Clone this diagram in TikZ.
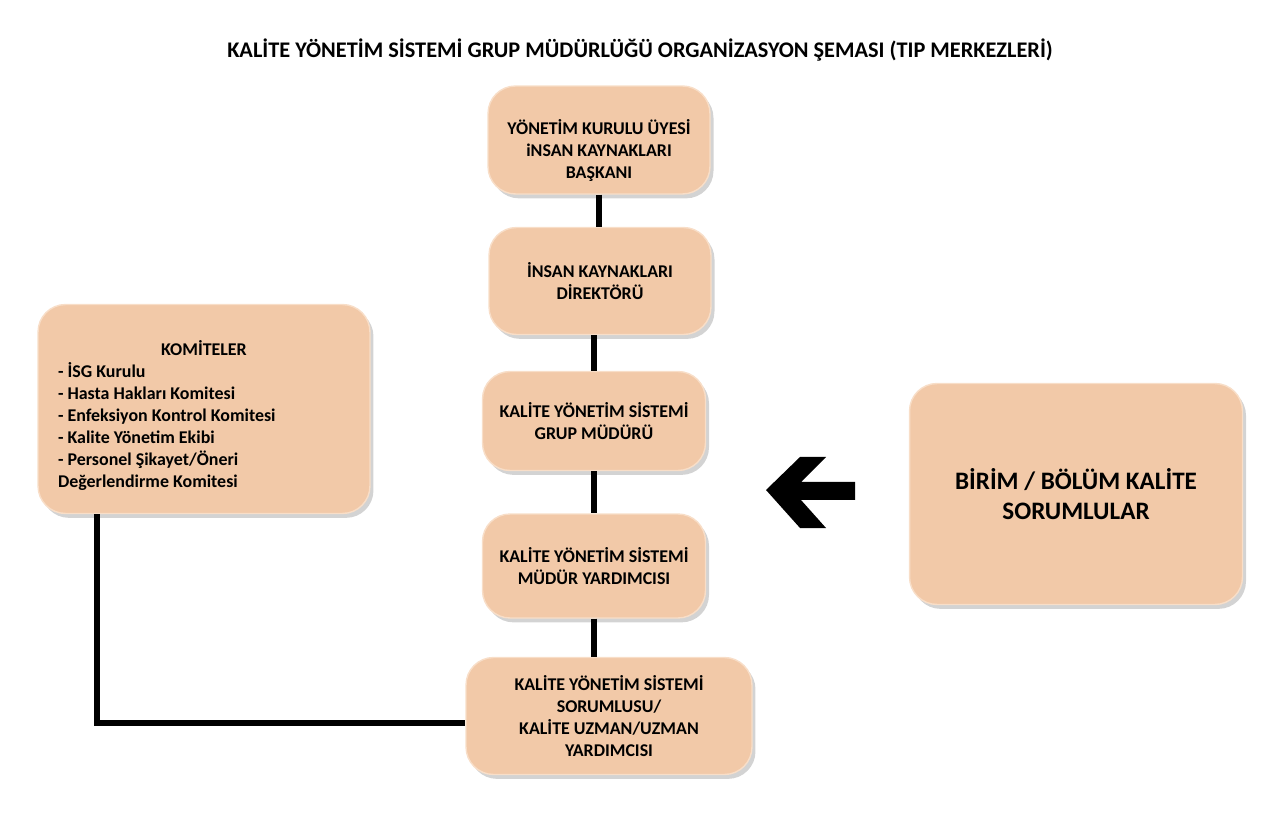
\documentclass[tikz,border=0pt]{standalone}
\usepackage{fontspec}
\setmainfont{Carlito}
\usetikzlibrary{shadows}
\definecolor{boxfill}{RGB}{242,201,168}
\definecolor{boxedge}{RGB}{248,222,200}

\begin{document}
\begin{tikzpicture}[x=0.02cm, y=-0.02cm,
    orgbox/.style={rounded corners=0.55cm, fill=boxfill, draw=boxedge, line width=0.8pt,
        drop shadow={shadow xshift=2pt, shadow yshift=-2.5pt, opacity=0.35},
        align=center, inner sep=2pt, font=\bfseries\fontsize{10.2}{12.5}\selectfont},
    link/.style={line width=2.9pt, black}]
            \useasboundingbox (0,0) rectangle (1280,813);
            % title
            \node (title) at (640,50) {\bfseries\fontsize{12.7}{14}\selectfont KALİTE YÖNETİM SİSTEMİ GRUP MÜDÜRLÜĞÜ ORGANİZASYON ŞEMASI (TIP MERKEZLERİ)};

            % connector ends
            \coordinate (kdrop) at (97,514);

            % central column
            \node [orgbox, minimum width=4.44cm, minimum height=2.16cm] (bskn) at (599,140)
                {\rule{0pt}{21pt}YÖNETİM KURULU ÜYESİ\\iNSAN KAYNAKLARI\\BAŞKANI};
            \node [orgbox, minimum width=4.44cm, minimum height=2.14cm] (ikdir) at (600,281)
                {İNSAN KAYNAKLARI\\DİREKTÖRÜ};
            \node [orgbox, minimum width=4.46cm, minimum height=1.98cm] (gmd) at (594,421)
                {KALİTE YÖNETİM SİSTEMİ\\GRUP MÜDÜRÜ};
            \node [orgbox, minimum width=4.46cm, minimum height=2.08cm] (myrd) at (594,566)
                {KALİTE YÖNETİM SİSTEMİ\\MÜDÜR YARDIMCISI};
            \node [orgbox, minimum width=5.72cm, minimum height=2.34cm] (srm) at (609,716)
                {KALİTE YÖNETİM SİSTEMİ\\SORUMLUSU/\\KALİTE UZMAN/UZMAN\\YARDIMCISI};

            % side boxes
            \node [orgbox, minimum width=6.64cm, minimum height=4.18cm, text width=5.84cm, align=flush left] (kom) at (204,409)
                {\rule{0pt}{16pt}\hfill KOMİTELER\hfill\null\\- İSG Kurulu\\- Hasta Hakları Komitesi\\- Enfeksiyon Kontrol Komitesi\\- Kalite Yönetim Ekibi\\- Personel Şikayet/Öneri\\Değerlendirme Komitesi};
            \node [orgbox, minimum width=6.66cm, minimum height=4.42cm, font=\bfseries\fontsize{14.3}{17}\selectfont] (birim) at (1076,494)
                {BİRİM / BÖLÜM KALİTE\\SORUMLULAR};

            % links
            \draw [link] (bskn.south) -- (bskn.south |- ikdir.north);
            \draw [link] (ikdir.south -| gmd.north) -- (gmd.north);
            \draw [link] (gmd.south) -- (myrd.north);
            \draw [link] (myrd.south) -- (myrd.south |- srm.north);
            \draw [link] (kdrop) |- ([yshift=-0.14cm]srm.west);

            % block arrow
            \fill [black] (766,490) -- (800,457) -- (826,457) -- (801,482) -- (855,482)
                -- (855,500) -- (801,500) -- (826,528) -- (800,528) -- cycle;
\end{tikzpicture}
\end{document}
